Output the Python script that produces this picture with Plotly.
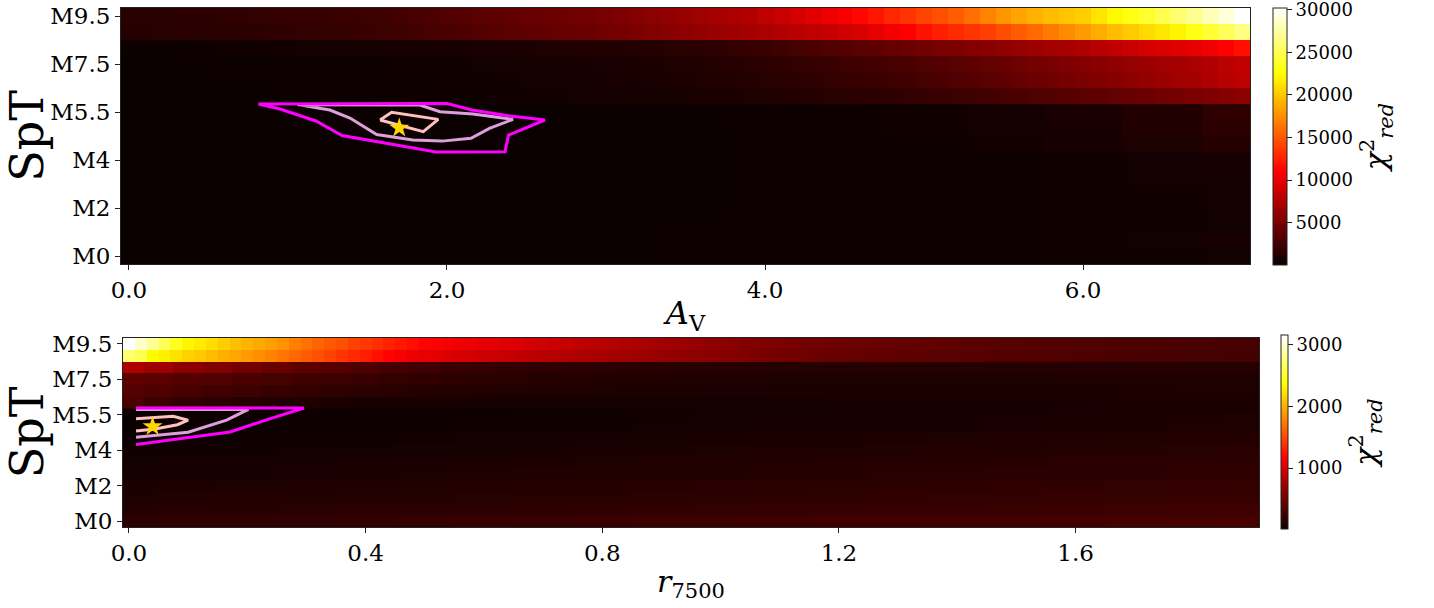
import plotly.graph_objects as go

# ---------------- grids / ticks ----------------
AV_FINE = [round(i * 0.1, 1) for i in range(71)]      # A_V grid, bright rows
AV_COARSE = [round(i * 0.5, 1) for i in range(15)]    # A_V grid, dark rows
R_FINE = [round(i * 0.02, 2) for i in range(96)]      # r7500 grid, brightest rows
R_MID = [round(i * 0.05, 2) for i in range(39)]
R_COARSE = [round(i * 0.1, 1) for i in range(20)]

SPT_TICK_POS = [0, 3, 6, 9, 12, 15]
SPT_TICK_TEXT = ["M0", "M2", "M4", "M5.5", "M7.5", "M9.5"]
AV_TICKS = [0, 2, 4, 6]
AV_TICK_TEXT = ["0.0", "2.0", "4.0", "6.0"]
R_TICKS = [0, 0.4, 0.8, 1.2, 1.6]
R_TICK_TEXT = ["0.0", "0.4", "0.8", "1.2", "1.6"]
CB1_TICKS = [5000, 10000, 15000, 20000, 25000, 30000]
CB1_TEXT = ["5000", "10000", "15000", "20000", "25000", "30000"]
CB2_TICKS = [1000, 2000, 3000]
CB2_TEXT = ["1000", "2000", "3000"]

# ---------------- top panel: chi2_red(A_V, SpT) ----------------
top_r15 = [1350, 1400, 1450, 1500, 1550, 1600, 1680, 1750, 1800, 1860,
           1920, 1990, 2060, 2130, 2200, 2250, 2400, 2580, 2760, 2950,
           3150, 3350, 3560, 3780, 4000, 4150, 4280, 4420, 4560, 4700,
           4980, 5270, 5560, 5850, 6150, 6450, 6740, 7030, 7320, 7600,
           8100, 8600, 9100, 9650, 10200, 10750, 11300, 12050, 12750, 13400,
           14050, 14650, 15250, 16000, 16900, 17800, 18450, 19100, 19550, 19950,
           20300, 21300, 22300, 23100, 23900, 24900, 25900, 26900, 28000, 29100,
           30200]
top_r14 = [1250, 1280, 1320, 1360, 1400, 1450, 1500, 1560, 1620, 1680,
           1750, 1820, 1890, 1960, 2040, 2120, 2250, 2400, 2560, 2720,
           2900, 3080, 3270, 3460, 3650, 3800, 3950, 4100, 4250, 4400,
           4650, 4900, 5150, 5400, 5700, 5950, 6200, 6450, 6700, 6950,
           7250, 7550, 7850, 8150, 8450, 8850, 9350, 9900, 10500, 11050,
           11800, 12450, 12950, 13400, 13850, 14500, 15150, 15800, 16550, 17300,
           18000, 18800, 19500, 20200, 20850, 21500, 22100, 23100, 24100, 25200,
           26400]
top_r13 = [100, 120, 150, 180, 210, 240, 280, 320, 360, 380,
           400, 420, 440, 470, 490, 510, 530, 560, 590, 620,
           650, 690, 730, 770, 810, 860, 910, 970, 1020, 1080,
           1130, 1170, 1220, 1270, 1320, 1400, 1540, 1690, 1850, 2000,
           2150, 2400, 2700, 2950, 3150, 3400, 3600, 3850, 4100, 4380,
           4650, 4930, 5200, 5450, 5750, 6000, 6300, 6600, 6900, 7150,
           7450, 7800, 8200, 8600, 9050, 9350, 9650, 9950, 10350, 11000,
           11700]
top_r12 = [60, 70, 80, 95, 110, 125, 140, 155, 170, 185,
           200, 210, 220, 230, 240, 250, 260, 280, 300, 330,
           360, 390, 420, 450, 490, 530, 570, 610, 650, 690,
           730, 770, 810, 850, 890, 930, 1050, 1180, 1300, 1420,
           1550, 1680, 1800, 1960, 2120, 2280, 2440, 2600, 2770, 2930,
           3150, 3370, 3590, 3810, 4030, 4280, 4530, 4780, 5030, 5280,
           5530, 5800, 6060, 6300, 6550, 6800, 7000, 7200, 7550, 7950,
           8300]
top_r11 = [40, 50, 60, 70, 80, 90, 100, 110, 120, 130,
           140, 150, 160, 170, 180, 190, 200, 215, 235, 260,
           290, 320, 350, 380, 410, 450, 490, 530, 570, 610,
           650, 690, 720, 760, 800, 840, 940, 1050, 1150, 1250,
           1350, 1450, 1550, 1680, 1810, 1940, 2070, 2200, 2330, 2460,
           2680, 2900, 3120, 3350, 3580, 3810, 4070, 4330, 4590, 4850,
           5100, 5350, 5610, 5900, 6200, 6500, 6750, 7000, 7400, 7800,
           8100]
top_r10 = [30, 35, 40, 45, 50, 55, 60, 70, 80, 90,
           100, 110, 120, 130, 140, 150, 160, 175, 190, 210,
           230, 250, 270, 290, 310, 340, 370, 400, 430, 460,
           490, 520, 550, 580, 620, 680, 740, 800, 860, 920,
           990, 1060, 1130, 1230, 1330, 1430, 1530, 1620, 1710, 1800,
           1950, 2100, 2250, 2400, 2550, 2750, 2930, 3110, 3290, 3470,
           3650, 3850, 4050, 4250, 4450, 4650, 4850, 5050, 5300, 5580,
           5860]
top_r9 = [40, 40, 40, 40, 50, 60, 80, 110, 150, 220, 330, 500, 750, 1150, 1700]
top_r8 = [40, 35, 30, 30, 35, 45, 60, 90, 130, 190, 280, 420, 650, 1000, 1450]
top_r7 = [45, 40, 35, 35, 40, 50, 65, 90, 130, 180, 260, 380, 580, 880, 1300]
top_r6 = [50, 45, 45, 45, 50, 55, 65, 80, 100, 130, 170, 230, 310, 420, 560]
top_r5 = [55, 50, 50, 50, 55, 60, 70, 85, 105, 135, 175, 235, 310, 420, 550]
top_r4 = [60, 55, 55, 55, 60, 65, 75, 90, 110, 140, 180, 230, 300, 390, 480]
top_r3 = [65, 60, 60, 60, 65, 70, 80, 95, 115, 140, 175, 220, 280, 360, 440]
top_r2 = [70, 65, 65, 65, 70, 75, 85, 100, 120, 145, 180, 225, 280, 350, 430]
top_r1 = [75, 70, 70, 70, 75, 80, 90, 105, 125, 150, 190, 240, 320, 450, 700]
top_r0 = [80, 75, 75, 75, 80, 85, 95, 110, 130, 155, 190, 235, 290, 360, 440]

# ---------------- bottom panel: chi2_red(r7500, SpT) ----------------
bot_r15 = [3160, 2990, 2830, 2640, 2460, 2320, 2260, 2200, 2130, 2060,
           2010, 1960, 1910, 1850, 1760, 1690, 1630, 1580, 1530, 1470,
           1420, 1370, 1320, 1270, 1220, 1175, 1150, 1120, 1090, 1070,
           1050, 1030, 1005, 985, 960, 935, 910, 890, 865, 845,
           825, 805, 785, 765, 745, 725, 705, 685, 665, 645,
           625, 605, 585, 565, 550, 535, 520, 505, 495, 485,
           475, 468, 460, 452, 445, 438, 430, 422, 415, 408,
           400, 393, 386, 380, 374, 368, 363, 358, 354, 350,
           345, 340, 335, 331, 327, 323, 319, 315, 311, 307,
           303, 300, 297, 294, 291, 288]
bot_r14 = [2710, 2610, 2340, 2290, 2220, 2150, 2100, 2040, 1985, 1940,
           1890, 1830, 1770, 1710, 1650, 1590, 1530, 1470, 1410, 1350,
           1290, 1230, 1170, 1120, 1080, 1045, 1025, 1000, 975, 950,
           925, 905, 885, 865, 845, 825, 808, 792, 776, 760,
           745, 730, 715, 700, 685, 670, 655, 640, 625, 610,
           595, 575, 555, 535, 520, 505, 490, 478, 466, 455,
           446, 438, 430, 423, 416, 410, 404, 398, 392, 386,
           381, 376, 371, 365, 359, 353, 348, 343, 338, 334,
           330, 326, 322, 318, 314, 310, 306, 302, 298, 294,
           290, 288, 286, 284, 282, 280]
bot_r13 = [785, 715, 630, 560, 500, 450, 400, 360, 320, 285,
           255, 235, 218, 203, 190, 178, 167, 158, 152, 148,
           145, 142, 140, 138, 136, 134, 132, 131, 131, 132,
           133, 134, 135, 136, 137, 138, 139, 140, 141]
bot_r12 = [410, 390, 365, 340, 315, 290, 265, 245, 225, 205,
           190, 175, 160, 150, 140, 132, 125, 119, 114, 110,
           106, 103, 101, 100, 99, 98, 98, 98, 99, 100,
           101, 102, 103, 104, 105, 106, 107, 108, 109]
bot_r11 = [360, 330, 295, 270, 245, 220, 198, 180, 162, 150,
           140, 132, 125, 118, 112, 106, 100, 96, 93, 90,
           88, 86, 85, 84, 84, 84, 85, 86, 87, 88,
           89, 90, 91, 92, 94, 96, 98, 100, 102]
bot_r10 = [300, 250, 200, 165, 140, 120, 105, 92, 82, 75,
           70, 66, 63, 60, 58, 57, 56, 56, 56, 57,
           58, 60, 62, 64, 66, 68, 70, 72, 74, 76,
           78, 80, 82, 84, 86, 88, 90, 92, 94]
bot_r9 = [15, 18, 22, 25, 28, 32, 36, 40, 45, 50, 55, 60, 65, 70, 75, 80, 85, 90, 95, 100]
bot_r8 = [15, 18, 22, 26, 30, 35, 40, 45, 50, 55, 60, 65, 70, 75, 80, 85, 90, 95, 100, 105]
bot_r7 = [25, 30, 35, 40, 45, 50, 55, 60, 66, 72, 78, 84, 90, 96, 102, 108, 114, 120, 125, 130]
bot_r6 = [40, 45, 50, 56, 62, 68, 74, 80, 86, 92, 98, 104, 110, 116, 122, 128, 134, 140, 146, 150]
bot_r5 = [55, 60, 66, 72, 78, 84, 90, 96, 102, 108, 114, 120, 126, 132, 138, 144, 150, 155, 160, 165]
bot_r4 = [70, 76, 82, 88, 94, 100, 106, 112, 118, 124, 130, 136, 142, 148, 154, 160, 166, 172, 178, 184]
bot_r3 = [90, 96, 102, 108, 114, 120, 126, 132, 138, 144, 150, 156, 162, 168, 174, 180, 186, 192, 198, 204]
bot_r2 = [110, 116, 122, 128, 134, 140, 146, 152, 158, 164, 170, 176, 182, 188, 194, 200, 206, 212, 218, 224]
bot_r1 = [125, 132, 139, 146, 153, 160, 167, 174, 181, 188, 195, 202, 209, 216, 223, 230, 236, 242, 248, 254]
bot_r0 = [170, 178, 186, 194, 202, 210, 218, 226, 234, 242, 250, 258, 264, 270, 276, 280, 284, 288, 292, 296]

# ---------------- confidence contours and best fit ----------------
TOP_OUTER_AV = [0.814, 2.00, 2.157, 2.396, 2.616, 2.387, 2.365, 1.931, 1.340, 1.176, 0.950, 0.814]
TOP_OUTER_SPT = [9.50, 9.53, 9.125, 8.75, 8.50, 7.56, 6.52, 6.50, 7.53, 8.44, 9.19, 9.50]
TOP_MID_AV = [1.060, 1.264, 1.39, 1.558, 1.786, 1.969, 2.151, 2.267, 2.415, 2.164, 1.956, 1.830, 1.060]
TOP_MID_SPT = [9.46, 9.125, 8.625, 7.59, 7.25, 7.18, 7.36, 7.98, 8.54, 8.875, 9.02, 9.44, 9.46]
TOP_IN_AV = [1.579, 1.652, 1.945, 1.851, 1.579]
TOP_IN_SPT = [8.50, 8.98, 8.54, 7.77, 8.50]
TOP_BEST = (1.7, 8)

BOT_OUTER_R = [0.012, 0.296, 0.235, 0.171, 0.012]
BOT_OUTER_SPT = [9.57, 9.57, 8.61, 7.54, 6.48]
BOT_MID_R = [0.012, 0.202, 0.165, 0.100, 0.012]
BOT_MID_SPT = [9.45, 9.45, 8.54, 7.52, 7.09]
BOT_IN_R = [0.012, 0.075, 0.100, 0.082, 0.044, 0.012]
BOT_IN_SPT = [8.67, 8.88, 8.54, 8.16, 7.80, 7.63]
BOT_BEST = (0.04, 8)

HOT = [[0.0, "rgb(10,0,0)"], [0.365, "rgb(255,0,0)"],
       [0.746, "rgb(255,255,0)"], [1.0, "rgb(255,255,255)"]]
FONT = "DejaVu Serif"
W, H = 1434, 608
CB_TITLE = "<i>χ</i><sup>2</sup><sub><i>red</i></sub>"

fig = go.Figure()

# top heatmaps
fig.add_trace(go.Heatmap(x=AV_COARSE, y=list(range(0, 10)),
                         z=[top_r0, top_r1, top_r2, top_r3, top_r4, top_r5, top_r6, top_r7, top_r8, top_r9],
                         coloraxis="coloraxis", xaxis="x", yaxis="y", hoverinfo="skip"))
fig.add_trace(go.Heatmap(x=AV_FINE, y=list(range(10, 16)),
                         z=[top_r10, top_r11, top_r12, top_r13, top_r14, top_r15],
                         coloraxis="coloraxis", xaxis="x", yaxis="y", hoverinfo="skip"))
# bottom heatmaps
fig.add_trace(go.Heatmap(x=R_COARSE, y=list(range(0, 10)),
                         z=[bot_r0, bot_r1, bot_r2, bot_r3, bot_r4, bot_r5, bot_r6, bot_r7, bot_r8, bot_r9],
                         coloraxis="coloraxis2", xaxis="x2", yaxis="y2", hoverinfo="skip"))
fig.add_trace(go.Heatmap(x=R_MID, y=list(range(10, 14)),
                         z=[bot_r10, bot_r11, bot_r12, bot_r13],
                         coloraxis="coloraxis2", xaxis="x2", yaxis="y2", hoverinfo="skip"))
fig.add_trace(go.Heatmap(x=R_FINE, y=[14, 15],
                         z=[bot_r14, bot_r15],
                         coloraxis="coloraxis2", xaxis="x2", yaxis="y2", hoverinfo="skip"))


def line(xs, ys, color, xa, ya):
    fig.add_trace(go.Scatter(x=xs, y=ys, mode="lines", line=dict(color=color, width=3),
                             xaxis=xa, yaxis=ya, hoverinfo="skip"))


line(TOP_IN_AV, TOP_IN_SPT, "#FFC0C0", "x", "y")
line(TOP_MID_AV, TOP_MID_SPT, "#DDA0DD", "x", "y")
line(TOP_OUTER_AV, TOP_OUTER_SPT, "#FF00FF", "x", "y")
line(BOT_IN_R, BOT_IN_SPT, "#FFC0C0", "x2", "y2")
line(BOT_MID_R, BOT_MID_SPT, "#DDA0DD", "x2", "y2")
line(BOT_OUTER_R, BOT_OUTER_SPT, "#FF00FF", "x2", "y2")

for (bx, by), xa, ya in [(TOP_BEST, "x", "y"), (BOT_BEST, "x2", "y2")]:
    fig.add_trace(go.Scatter(x=[bx], y=[by], mode="markers", xaxis=xa, yaxis=ya,
                             marker=dict(symbol="star", size=15, color="#FFD700",
                                         line=dict(width=0)), hoverinfo="skip"))

axis_common = dict(showgrid=False, zeroline=False, showline=True, mirror=True,
                   linecolor="#222", linewidth=1, ticks="outside", ticklen=5,
                   tickcolor="#222", tickfont=dict(family=FONT, size=23, color="black"),
                   automargin=False)


def cbar(x, ytop, length, thick, vals, text):
    return dict(x=x, xanchor="left", y=ytop, yanchor="top",
                len=length, lenmode="pixels", thickness=thick, thicknessmode="pixels",
                outlinewidth=1, outlinecolor="#222", xpad=0, ypad=0,
                tickvals=vals, ticktext=text, ticks="outside", ticklen=5, tickcolor="#222",
                ticklabeloverflow="allow",
                tickfont=dict(family=FONT, size=18, color="black"),
                title=dict(text=CB_TITLE, side="right", font=dict(family=FONT, size=30)))


fig.update_layout(
    width=W, height=H, margin=dict(l=0, r=0, t=0, b=0),
    paper_bgcolor="white", plot_bgcolor="black", showlegend=False,
    font=dict(family=FONT, color="black"),
    xaxis=dict(domain=[121 / W, 1250 / W], range=[-0.05, 7.05], anchor="y",
               tickvals=AV_TICKS, ticktext=AV_TICK_TEXT,
               title=dict(text="<i>A</i><sub>V</sub>", font=dict(family=FONT, size=32), standoff=0),
               **axis_common),
    yaxis=dict(domain=[1 - 264 / H, 1 - 8 / H], range=[-0.5, 15.5], anchor="x",
               tickvals=SPT_TICK_POS, ticktext=SPT_TICK_TEXT,
               title=dict(text="SpT", font=dict(family=FONT, size=46), standoff=6),
               **axis_common),
    xaxis2=dict(domain=[123 / W, 1259 / W], range=[-0.01, 1.91], anchor="y2",
                tickvals=R_TICKS, ticktext=R_TICK_TEXT,
                title=dict(text="<i>r</i><sub>7500</sub>", font=dict(family=FONT, size=30), standoff=6),
                **axis_common),
    yaxis2=dict(domain=[1 - 527 / H, 1 - 338 / H], range=[-0.5, 15.5], anchor="x2",
                tickvals=SPT_TICK_POS, ticktext=SPT_TICK_TEXT,
                title=dict(text="SpT", font=dict(family=FONT, size=46), standoff=6),
                **axis_common),
    coloraxis=dict(colorscale=HOT, cmin=30, cmax=30200,
                   colorbar=cbar(1273 / W, 1 - 8 / H, 257, 14, CB1_TICKS, CB1_TEXT)),
    coloraxis2=dict(colorscale=HOT, cmin=11, cmax=3160,
                    colorbar=cbar(1281 / W, 1 - 335 / H, 194, 7, CB2_TICKS, CB2_TEXT)),
)

fig.write_html("out.html")
